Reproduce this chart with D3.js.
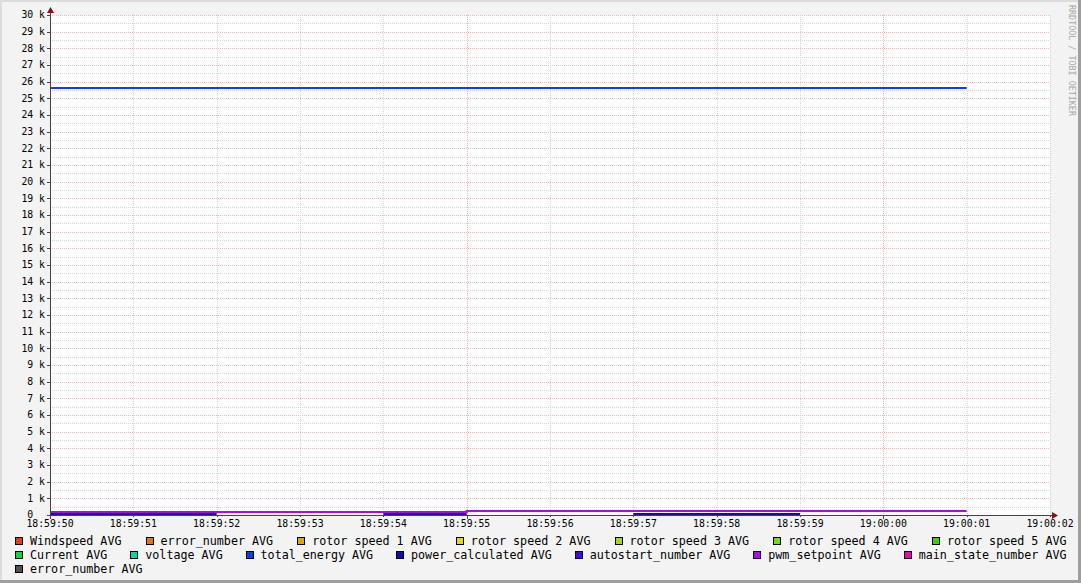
<!DOCTYPE html>
<html><head><meta charset="utf-8">
<script src="https://cdn.jsdelivr.net/npm/d3@7"></script>
<style>body{margin:0;background:#f3f3f3}svg{display:block}text{font-family:"DejaVu Sans Mono",monospace;white-space:pre}</style>
</head><body><svg id="c" width="1081" height="583"></svg>
<script>
// ---- data ----
const intervalTimes = ["18:59:50","18:59:51","18:59:52","18:59:53","18:59:54","18:59:55","18:59:56","18:59:57","18:59:58","18:59:59","19:00:00","19:00:01"];
const totalEnergy     = [25620,25620,25620,25620,25620,25620,25620,25620,25620,25620,25620];
const powerCalculated = [40,40,null,null,40,null,null,40,40,null,null];
const pwmSetpoint     = [200,200,200,200,200,220,220,220,220,220,220];
const yTicks = [0,1000,2000,3000,4000,5000,6000,7000,8000,9000,10000,11000,12000,13000,14000,15000,16000,17000,18000,19000,20000,21000,22000,23000,24000,25000,26000,27000,28000,29000,30000];
const xStart = "18:59:50", xEnd = "19:00:02";
const legendNames = ["Windspeed AVG","error_number AVG","rotor speed 1 AVG","rotor speed 2 AVG","rotor speed 3 AVG","rotor speed 4 AVG","rotor speed 5 AVG",
  "Current AVG","voltage AVG","total_energy AVG","power_calculated AVG","autostart_number AVG","pwm_setpoint AVG","main_state_number AVG",
  "error_number AVG"];
const legendColors = ["#e0400f","#e0770f","#e0a60f","#dcdc0f","#a6d60f","#70dc0f","#33d30f",
  "#0fd33f","#0fd3a0","#0f40e0","#0f0fa6","#400fe0","#a60fe0","#e00fa6",
  "#505050"];
const rowSizes = [7,7,1];

// ---- chart ----
const svg = d3.select("#c");
const W = 1081, H = 583;
const parse = s => d3.timeParse("%Y-%m-%d %H:%M:%S")("2020-01-01 " + s);
const x = d3.scaleTime().domain([parse(xStart), parse(xEnd)]).range([50, 1050]);
const y = d3.scaleLinear().domain([0, 30000]).range([515, 15]);

svg.append("rect").attr("width", W).attr("height", H).attr("fill", "#f3f3f3");
svg.append("rect").attr("x",0).attr("y",0).attr("width",W).attr("height",2).attr("fill","#dcdcdc");
svg.append("rect").attr("x",0).attr("y",0).attr("width",2).attr("height",H).attr("fill","#dcdcdc");
svg.append("rect").attr("x",W-3).attr("y",0).attr("width",3).attr("height",H).attr("fill","#9e9e9e");
svg.append("rect").attr("x",0).attr("y",H-3).attr("width",W).attr("height",3).attr("fill","#9e9e9e");

svg.append("rect").attr("x",50).attr("y",15).attr("width",1000).attr("height",500).attr("fill","#fff");

const g = svg.append("g");
// horizontal grid
const minorY = d3.range(500, 30000, 1000);
g.selectAll(".hmin").data(minorY).join("line")
  .attr("x1",50).attr("x2",1050).attr("y1",d=>Math.round(y(d))+0.5).attr("y2",d=>Math.round(y(d))+0.5)
  .attr("stroke","#d6d6d6").attr("stroke-dasharray","1,1");
g.selectAll(".hmaj").data(yTicks.filter(d=>d>0)).join("line")
  .attr("x1",50).attr("x2",1050).attr("y1",d=>Math.round(y(d))+0.5).attr("y2",d=>Math.round(y(d))+0.5)
  .attr("stroke","#ebb9b9").attr("stroke-dasharray","1,1");
// vertical grid
const secTicks = x.ticks(d3.timeSecond.every(1));
g.selectAll(".vgrid").data(secTicks.filter(d=>+d>+x.domain()[0])).join("line")
  .attr("x1",d=>Math.round(x(d))+0.5).attr("x2",d=>Math.round(x(d))+0.5).attr("y1",15).attr("y2",515)
  .attr("stroke",d=>d.getSeconds()%5===0?"#ebbdbd":"#d6d6d6").attr("stroke-dasharray","1,1");

// series
function stepPoints(vals){
  const pts=[];
  vals.forEach((v,i)=>{
    const t0=parse(intervalTimes[i]), t1=parse(intervalTimes[i+1]);
    if(v==null){pts.push({t:t0,v:null});return;}
    pts.push({t:t0,v:v},{t:t1,v:v});
  });
  return pts;
}
const line = d3.line().defined(d=>d.v!=null).x(d=>x(d.t)).y(d=>Math.round(y(d.v)));
const series = [
  {vals: totalEnergy, color: legendColors[9]},
  {vals: powerCalculated, color: legendColors[10]},
  {vals: pwmSetpoint, color: legendColors[12]},
];
series.forEach(s=>{
  svg.append("path").attr("d", line(stepPoints(s.vals))).attr("fill","none")
    .attr("stroke", s.color).attr("stroke-width",2);
});

// axes
const axisColor = "#4a4040", arrowColor = "#8a1010";
svg.append("line").attr("x1",50.5).attr("x2",50.5).attr("y1",518).attr("y2",11).attr("stroke",axisColor);
svg.append("path").attr("d","M47,13L54,13L50.5,7Z").attr("fill",arrowColor);
svg.append("line").attr("x1",47).attr("x2",1053).attr("y1",515.5).attr("y2",515.5).attr("stroke",axisColor);
svg.append("path").attr("d","M1052,512L1052,519L1058,515.5Z").attr("fill",arrowColor);
// tick marks
svg.selectAll(".yt").data(yTicks).join("line")
  .attr("x1",47).attr("x2",50).attr("y1",d=>Math.round(y(d))+0.5).attr("y2",d=>Math.round(y(d))+0.5).attr("stroke",axisColor);
svg.selectAll(".xt").data(secTicks).join("line")
  .attr("x1",d=>Math.round(x(d))+0.5).attr("x2",d=>Math.round(x(d))+0.5).attr("y1",515).attr("y2",d=>d.getSeconds()%5===0?519:517).attr("stroke",axisColor);

// labels
svg.selectAll(".yl").data(yTicks).join("text")
  .attr("x",45).attr("y",d=>y(d)).attr("dy","0.35em").attr("text-anchor","end")
  .attr("font-size","9.8px").attr("fill","#000")
  .text(d=>d===0?"0\u00a0\u00a0":(d/1000)+"\u00a0k");
const fmt = d3.timeFormat("%H:%M:%S");
svg.selectAll(".xl").data(secTicks).join("text")
  .attr("x",d=>x(d)).attr("y",523.5).attr("dy","0.35em").attr("text-anchor","middle")
  .attr("font-size","9.8px").attr("fill","#000").text(d=>fmt(d));

// watermark
svg.append("text").attr("transform","translate(1069,5) rotate(90)")
  .attr("font-size","8.4px").attr("fill","#a8a8a8").text("RRDTOOL / TOBI OETIKER");

// legend
const lg = svg.append("g");
const rowY = [541,555,569];
const leftX = 15, rightX = 1066.5;
const meas = lg.append("text").attr("font-size","11.7px");
let idx = 0;
rowSizes.forEach((n,r)=>{
  const items = d3.range(idx, idx+n);
  const widths = items.map(i=>{meas.text(legendNames[i]);return 15+meas.node().getComputedTextLength();});
  const total = d3.sum(widths);
  const gap = (r < rowSizes.length-1 && n>1) ? (rightX-leftX-total)/(n-1) : 24;
  let cx = leftX;
  items.forEach((i,k)=>{
    lg.append("rect").attr("x",Math.round(cx)+0.5).attr("y",rowY[r]-3.5).attr("width",7).attr("height",7)
      .attr("fill",legendColors[i]).attr("stroke","#000");
    lg.append("text").attr("x",cx+15).attr("y",rowY[r]).attr("dy","0.35em").attr("font-size","11.7px")
      .attr("fill","#000").text(legendNames[i]);
    cx += widths[k]+gap;
  });
  idx += n;
});
meas.remove();
</script></body></html>
